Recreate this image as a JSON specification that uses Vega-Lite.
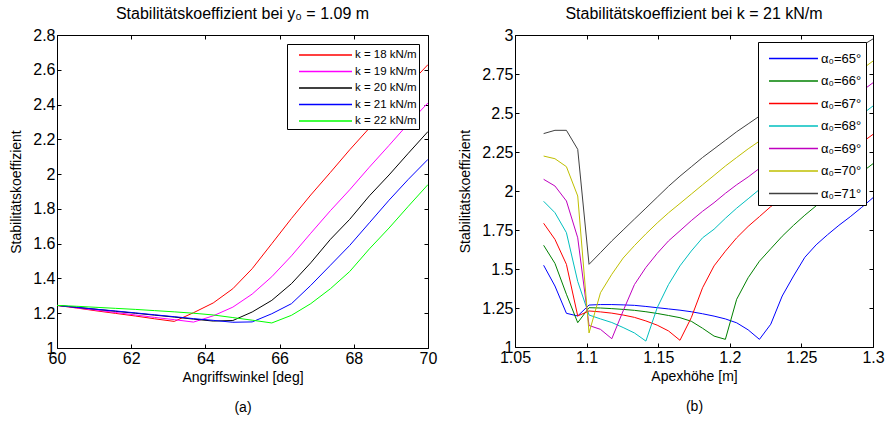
{
  "$schema": "https://vega.github.io/schema/vega-lite/v6.json",
  "background": "white",
  "padding": {"left": 9, "top": 5, "right": 5, "bottom": 5},
  "resolve": {"scale": {"color": "independent"}, "legend": {"color": "independent"}},
  "config": {
    "font": "Liberation Sans",
    "view": {"stroke": "black", "strokeWidth": 1},
    "axis": {
      "grid": false,
      "domain": false,
      "tickColor": "black",
      "tickSize": -4,
      "labelPadding": 6,
      "labelFontSize": 16,
      "labelColor": "black",
      "titleFontSize": 14,
      "titleFontWeight": "normal",
      "titleColor": "black",
      "labelFlush": false,
      "labelOverlap": false
    },
    "axisY": {"titlePadding": 9},
    "title": {"fontSize": 16, "fontWeight": "normal", "color": "black", "anchor": "middle"},
    "legend": {
      "strokeColor": "black",
      "fillColor": "white",
      "cornerRadius": 0,
      "title": null,
      "labelColor": "black"
    }
  },
  "datasets": {
    "a": [
      {"w":60,"s":1.245,"k":"k = 18 kN/m"},{"w":60.53,"s":1.230,"k":"k = 18 kN/m"},{"w":61.05,"s":1.214,"k":"k = 18 kN/m"},{"w":61.58,"s":1.199,"k":"k = 18 kN/m"},{"w":62.11,"s":1.184,"k":"k = 18 kN/m"},{"w":62.63,"s":1.168,"k":"k = 18 kN/m"},{"w":63.16,"s":1.153,"k":"k = 18 kN/m"},{"w":63.68,"s":1.203,"k":"k = 18 kN/m"},{"w":64.21,"s":1.259,"k":"k = 18 kN/m"},{"w":64.74,"s":1.341,"k":"k = 18 kN/m"},{"w":65.26,"s":1.456,"k":"k = 18 kN/m"},{"w":65.79,"s":1.60,"k":"k = 18 kN/m"},{"w":66.32,"s":1.745,"k":"k = 18 kN/m"},{"w":66.84,"s":1.88,"k":"k = 18 kN/m"},{"w":67.37,"s":2.01,"k":"k = 18 kN/m"},{"w":67.89,"s":2.14,"k":"k = 18 kN/m"},{"w":68.42,"s":2.265,"k":"k = 18 kN/m"},{"w":68.95,"s":2.39,"k":"k = 18 kN/m"},{"w":69.47,"s":2.51,"k":"k = 18 kN/m"},{"w":70,"s":2.63,"k":"k = 18 kN/m"},
      {"w":60,"s":1.245,"k":"k = 19 kN/m"},{"w":60.53,"s":1.231,"k":"k = 19 kN/m"},{"w":61.05,"s":1.218,"k":"k = 19 kN/m"},{"w":61.58,"s":1.204,"k":"k = 19 kN/m"},{"w":62.11,"s":1.190,"k":"k = 19 kN/m"},{"w":62.63,"s":1.176,"k":"k = 19 kN/m"},{"w":63.16,"s":1.163,"k":"k = 19 kN/m"},{"w":63.68,"s":1.149,"k":"k = 19 kN/m"},{"w":64.21,"s":1.185,"k":"k = 19 kN/m"},{"w":64.74,"s":1.235,"k":"k = 19 kN/m"},{"w":65.26,"s":1.31,"k":"k = 19 kN/m"},{"w":65.79,"s":1.41,"k":"k = 19 kN/m"},{"w":66.32,"s":1.53,"k":"k = 19 kN/m"},{"w":66.84,"s":1.66,"k":"k = 19 kN/m"},{"w":67.37,"s":1.79,"k":"k = 19 kN/m"},{"w":67.89,"s":1.91,"k":"k = 19 kN/m"},{"w":68.42,"s":2.04,"k":"k = 19 kN/m"},{"w":68.95,"s":2.165,"k":"k = 19 kN/m"},{"w":69.47,"s":2.29,"k":"k = 19 kN/m"},{"w":70,"s":2.41,"k":"k = 19 kN/m"},
      {"w":60,"s":1.245,"k":"k = 20 kN/m"},{"w":60.53,"s":1.234,"k":"k = 20 kN/m"},{"w":61.05,"s":1.223,"k":"k = 20 kN/m"},{"w":61.58,"s":1.211,"k":"k = 20 kN/m"},{"w":62.11,"s":1.200,"k":"k = 20 kN/m"},{"w":62.63,"s":1.189,"k":"k = 20 kN/m"},{"w":63.16,"s":1.178,"k":"k = 20 kN/m"},{"w":63.68,"s":1.166,"k":"k = 20 kN/m"},{"w":64.21,"s":1.155,"k":"k = 20 kN/m"},{"w":64.74,"s":1.158,"k":"k = 20 kN/m"},{"w":65.26,"s":1.207,"k":"k = 20 kN/m"},{"w":65.79,"s":1.274,"k":"k = 20 kN/m"},{"w":66.32,"s":1.37,"k":"k = 20 kN/m"},{"w":66.84,"s":1.49,"k":"k = 20 kN/m"},{"w":67.37,"s":1.625,"k":"k = 20 kN/m"},{"w":67.89,"s":1.74,"k":"k = 20 kN/m"},{"w":68.42,"s":1.875,"k":"k = 20 kN/m"},{"w":68.95,"s":1.995,"k":"k = 20 kN/m"},{"w":69.47,"s":2.12,"k":"k = 20 kN/m"},{"w":70,"s":2.245,"k":"k = 20 kN/m"},
      {"w":60,"s":1.245,"k":"k = 21 kN/m"},{"w":60.53,"s":1.234,"k":"k = 21 kN/m"},{"w":61.05,"s":1.223,"k":"k = 21 kN/m"},{"w":61.58,"s":1.213,"k":"k = 21 kN/m"},{"w":62.11,"s":1.202,"k":"k = 21 kN/m"},{"w":62.63,"s":1.191,"k":"k = 21 kN/m"},{"w":63.16,"s":1.180,"k":"k = 21 kN/m"},{"w":63.68,"s":1.169,"k":"k = 21 kN/m"},{"w":64.21,"s":1.159,"k":"k = 21 kN/m"},{"w":64.74,"s":1.148,"k":"k = 21 kN/m"},{"w":65.26,"s":1.15,"k":"k = 21 kN/m"},{"w":65.79,"s":1.197,"k":"k = 21 kN/m"},{"w":66.32,"s":1.255,"k":"k = 21 kN/m"},{"w":66.84,"s":1.36,"k":"k = 21 kN/m"},{"w":67.37,"s":1.476,"k":"k = 21 kN/m"},{"w":67.89,"s":1.59,"k":"k = 21 kN/m"},{"w":68.42,"s":1.72,"k":"k = 21 kN/m"},{"w":68.95,"s":1.85,"k":"k = 21 kN/m"},{"w":69.47,"s":1.97,"k":"k = 21 kN/m"},{"w":70,"s":2.085,"k":"k = 21 kN/m"},
      {"w":60,"s":1.245,"k":"k = 22 kN/m"},{"w":60.53,"s":1.240,"k":"k = 22 kN/m"},{"w":61.05,"s":1.234,"k":"k = 22 kN/m"},{"w":61.58,"s":1.228,"k":"k = 22 kN/m"},{"w":62.11,"s":1.222,"k":"k = 22 kN/m"},{"w":62.63,"s":1.215,"k":"k = 22 kN/m"},{"w":63.16,"s":1.208,"k":"k = 22 kN/m"},{"w":63.68,"s":1.200,"k":"k = 22 kN/m"},{"w":64.21,"s":1.19,"k":"k = 22 kN/m"},{"w":64.74,"s":1.175,"k":"k = 22 kN/m"},{"w":65.26,"s":1.16,"k":"k = 22 kN/m"},{"w":65.79,"s":1.144,"k":"k = 22 kN/m"},{"w":66.32,"s":1.188,"k":"k = 22 kN/m"},{"w":66.84,"s":1.255,"k":"k = 22 kN/m"},{"w":67.37,"s":1.341,"k":"k = 22 kN/m"},{"w":67.89,"s":1.44,"k":"k = 22 kN/m"},{"w":68.42,"s":1.57,"k":"k = 22 kN/m"},{"w":68.95,"s":1.69,"k":"k = 22 kN/m"},{"w":69.47,"s":1.815,"k":"k = 22 kN/m"},{"w":70,"s":1.94,"k":"k = 22 kN/m"}
    ],
    "b": [
      {"h":1.07,"s":1.524,"a":"α₀=65°"},{"h":1.0779,"s":1.391,"a":"α₀=65°"},{"h":1.0859,"s":1.216,"a":"α₀=65°"},{"h":1.0938,"s":1.199,"a":"α₀=65°"},{"h":1.1017,"s":1.269,"a":"α₀=65°"},{"h":1.1097,"s":1.272,"a":"α₀=65°"},{"h":1.1176,"s":1.272,"a":"α₀=65°"},{"h":1.1255,"s":1.27,"a":"α₀=65°"},{"h":1.1334,"s":1.267,"a":"α₀=65°"},{"h":1.1414,"s":1.26,"a":"α₀=65°"},{"h":1.1493,"s":1.252,"a":"α₀=65°"},{"h":1.1572,"s":1.244,"a":"α₀=65°"},{"h":1.1652,"s":1.236,"a":"α₀=65°"},{"h":1.1731,"s":1.226,"a":"α₀=65°"},{"h":1.181,"s":1.213,"a":"α₀=65°"},{"h":1.189,"s":1.198,"a":"α₀=65°"},{"h":1.1969,"s":1.18,"a":"α₀=65°"},{"h":1.2048,"s":1.155,"a":"α₀=65°"},{"h":1.2128,"s":1.11,"a":"α₀=65°"},{"h":1.2207,"s":1.049,"a":"α₀=65°"},{"h":1.2286,"s":1.146,"a":"α₀=65°"},{"h":1.2366,"s":1.327,"a":"α₀=65°"},{"h":1.2445,"s":1.455,"a":"α₀=65°"},{"h":1.2524,"s":1.575,"a":"α₀=65°"},{"h":1.2603,"s":1.655,"a":"α₀=65°"},{"h":1.2683,"s":1.72,"a":"α₀=65°"},{"h":1.2762,"s":1.78,"a":"α₀=65°"},{"h":1.2841,"s":1.835,"a":"α₀=65°"},{"h":1.2921,"s":1.895,"a":"α₀=65°"},{"h":1.3,"s":1.957,"a":"α₀=65°"},
      {"h":1.07,"s":1.652,"a":"α₀=66°"},{"h":1.0779,"s":1.536,"a":"α₀=66°"},{"h":1.0859,"s":1.338,"a":"α₀=66°"},{"h":1.0938,"s":1.156,"a":"α₀=66°"},{"h":1.1017,"s":1.252,"a":"α₀=66°"},{"h":1.1097,"s":1.25,"a":"α₀=66°"},{"h":1.1176,"s":1.246,"a":"α₀=66°"},{"h":1.1255,"s":1.241,"a":"α₀=66°"},{"h":1.1334,"s":1.235,"a":"α₀=66°"},{"h":1.1414,"s":1.226,"a":"α₀=66°"},{"h":1.1493,"s":1.215,"a":"α₀=66°"},{"h":1.1572,"s":1.202,"a":"α₀=66°"},{"h":1.1652,"s":1.188,"a":"α₀=66°"},{"h":1.1731,"s":1.165,"a":"α₀=66°"},{"h":1.181,"s":1.12,"a":"α₀=66°"},{"h":1.189,"s":1.07,"a":"α₀=66°"},{"h":1.1969,"s":1.049,"a":"α₀=66°"},{"h":1.2048,"s":1.306,"a":"α₀=66°"},{"h":1.2128,"s":1.444,"a":"α₀=66°"},{"h":1.2207,"s":1.55,"a":"α₀=66°"},{"h":1.2286,"s":1.63,"a":"α₀=66°"},{"h":1.2366,"s":1.71,"a":"α₀=66°"},{"h":1.2445,"s":1.78,"a":"α₀=66°"},{"h":1.2524,"s":1.845,"a":"α₀=66°"},{"h":1.2603,"s":1.905,"a":"α₀=66°"},{"h":1.2683,"s":1.96,"a":"α₀=66°"},{"h":1.2762,"s":2.015,"a":"α₀=66°"},{"h":1.2841,"s":2.07,"a":"α₀=66°"},{"h":1.2921,"s":2.12,"a":"α₀=66°"},{"h":1.3,"s":2.175,"a":"α₀=66°"},
      {"h":1.07,"s":1.793,"a":"α₀=67°"},{"h":1.0779,"s":1.69,"a":"α₀=67°"},{"h":1.0859,"s":1.53,"a":"α₀=67°"},{"h":1.0938,"s":1.199,"a":"α₀=67°"},{"h":1.1017,"s":1.231,"a":"α₀=67°"},{"h":1.1097,"s":1.225,"a":"α₀=67°"},{"h":1.1176,"s":1.217,"a":"α₀=67°"},{"h":1.1255,"s":1.205,"a":"α₀=67°"},{"h":1.1334,"s":1.19,"a":"α₀=67°"},{"h":1.1414,"s":1.167,"a":"α₀=67°"},{"h":1.1493,"s":1.14,"a":"α₀=67°"},{"h":1.1572,"s":1.103,"a":"α₀=67°"},{"h":1.1652,"s":1.043,"a":"α₀=67°"},{"h":1.1731,"s":1.188,"a":"α₀=67°"},{"h":1.181,"s":1.38,"a":"α₀=67°"},{"h":1.189,"s":1.52,"a":"α₀=67°"},{"h":1.1969,"s":1.614,"a":"α₀=67°"},{"h":1.2048,"s":1.70,"a":"α₀=67°"},{"h":1.2128,"s":1.773,"a":"α₀=67°"},{"h":1.2207,"s":1.836,"a":"α₀=67°"},{"h":1.2286,"s":1.90,"a":"α₀=67°"},{"h":1.2366,"s":1.95,"a":"α₀=67°"},{"h":1.2445,"s":2.0,"a":"α₀=67°"},{"h":1.2524,"s":2.05,"a":"α₀=67°"},{"h":1.2603,"s":2.10,"a":"α₀=67°"},{"h":1.2683,"s":2.155,"a":"α₀=67°"},{"h":1.2762,"s":2.21,"a":"α₀=67°"},{"h":1.2841,"s":2.26,"a":"α₀=67°"},{"h":1.2921,"s":2.31,"a":"α₀=67°"},{"h":1.3,"s":2.363,"a":"α₀=67°"},
      {"h":1.07,"s":1.934,"a":"α₀=68°"},{"h":1.0779,"s":1.861,"a":"α₀=68°"},{"h":1.0859,"s":1.733,"a":"α₀=68°"},{"h":1.0938,"s":1.42,"a":"α₀=68°"},{"h":1.1017,"s":1.205,"a":"α₀=68°"},{"h":1.1097,"s":1.18,"a":"α₀=68°"},{"h":1.1176,"s":1.157,"a":"α₀=68°"},{"h":1.1255,"s":1.125,"a":"α₀=68°"},{"h":1.1334,"s":1.09,"a":"α₀=68°"},{"h":1.1414,"s":1.038,"a":"α₀=68°"},{"h":1.1493,"s":1.252,"a":"α₀=68°"},{"h":1.1572,"s":1.40,"a":"α₀=68°"},{"h":1.1652,"s":1.52,"a":"α₀=68°"},{"h":1.1731,"s":1.615,"a":"α₀=68°"},{"h":1.181,"s":1.70,"a":"α₀=68°"},{"h":1.189,"s":1.755,"a":"α₀=68°"},{"h":1.1969,"s":1.825,"a":"α₀=68°"},{"h":1.2048,"s":1.89,"a":"α₀=68°"},{"h":1.2128,"s":1.95,"a":"α₀=68°"},{"h":1.2207,"s":2.01,"a":"α₀=68°"},{"h":1.2286,"s":2.065,"a":"α₀=68°"},{"h":1.2366,"s":2.12,"a":"α₀=68°"},{"h":1.2445,"s":2.175,"a":"α₀=68°"},{"h":1.2524,"s":2.23,"a":"α₀=68°"},{"h":1.2603,"s":2.28,"a":"α₀=68°"},{"h":1.2683,"s":2.33,"a":"α₀=68°"},{"h":1.2762,"s":2.385,"a":"α₀=68°"},{"h":1.2841,"s":2.44,"a":"α₀=68°"},{"h":1.2921,"s":2.49,"a":"α₀=68°"},{"h":1.3,"s":2.545,"a":"α₀=68°"},
      {"h":1.07,"s":2.075,"a":"α₀=69°"},{"h":1.0779,"s":2.032,"a":"α₀=69°"},{"h":1.0859,"s":1.936,"a":"α₀=69°"},{"h":1.0938,"s":1.70,"a":"α₀=69°"},{"h":1.1017,"s":1.138,"a":"α₀=69°"},{"h":1.1097,"s":1.113,"a":"α₀=69°"},{"h":1.1176,"s":1.053,"a":"α₀=69°"},{"h":1.1255,"s":1.231,"a":"α₀=69°"},{"h":1.1334,"s":1.40,"a":"α₀=69°"},{"h":1.1414,"s":1.51,"a":"α₀=69°"},{"h":1.1493,"s":1.60,"a":"α₀=69°"},{"h":1.1572,"s":1.68,"a":"α₀=69°"},{"h":1.1652,"s":1.745,"a":"α₀=69°"},{"h":1.1731,"s":1.81,"a":"α₀=69°"},{"h":1.181,"s":1.87,"a":"α₀=69°"},{"h":1.189,"s":1.925,"a":"α₀=69°"},{"h":1.1969,"s":1.985,"a":"α₀=69°"},{"h":1.2048,"s":2.04,"a":"α₀=69°"},{"h":1.2128,"s":2.09,"a":"α₀=69°"},{"h":1.2207,"s":2.145,"a":"α₀=69°"},{"h":1.2286,"s":2.2,"a":"α₀=69°"},{"h":1.2366,"s":2.255,"a":"α₀=69°"},{"h":1.2445,"s":2.31,"a":"α₀=69°"},{"h":1.2524,"s":2.365,"a":"α₀=69°"},{"h":1.2603,"s":2.42,"a":"α₀=69°"},{"h":1.2683,"s":2.475,"a":"α₀=69°"},{"h":1.2762,"s":2.53,"a":"α₀=69°"},{"h":1.2841,"s":2.585,"a":"α₀=69°"},{"h":1.2921,"s":2.64,"a":"α₀=69°"},{"h":1.3,"s":2.694,"a":"α₀=69°"},
      {"h":1.07,"s":2.224,"a":"α₀=70°"},{"h":1.0779,"s":2.207,"a":"α₀=70°"},{"h":1.0859,"s":2.156,"a":"α₀=70°"},{"h":1.0938,"s":1.968,"a":"α₀=70°"},{"h":1.1017,"s":1.09,"a":"α₀=70°"},{"h":1.1097,"s":1.348,"a":"α₀=70°"},{"h":1.1176,"s":1.466,"a":"α₀=70°"},{"h":1.1255,"s":1.57,"a":"α₀=70°"},{"h":1.1334,"s":1.65,"a":"α₀=70°"},{"h":1.1414,"s":1.725,"a":"α₀=70°"},{"h":1.1493,"s":1.795,"a":"α₀=70°"},{"h":1.1572,"s":1.86,"a":"α₀=70°"},{"h":1.1652,"s":1.92,"a":"α₀=70°"},{"h":1.1731,"s":1.98,"a":"α₀=70°"},{"h":1.181,"s":2.04,"a":"α₀=70°"},{"h":1.189,"s":2.10,"a":"α₀=70°"},{"h":1.1969,"s":2.16,"a":"α₀=70°"},{"h":1.2048,"s":2.215,"a":"α₀=70°"},{"h":1.2128,"s":2.27,"a":"α₀=70°"},{"h":1.2207,"s":2.32,"a":"α₀=70°"},{"h":1.2286,"s":2.37,"a":"α₀=70°"},{"h":1.2366,"s":2.42,"a":"α₀=70°"},{"h":1.2445,"s":2.475,"a":"α₀=70°"},{"h":1.2524,"s":2.525,"a":"α₀=70°"},{"h":1.2603,"s":2.58,"a":"α₀=70°"},{"h":1.2683,"s":2.63,"a":"α₀=70°"},{"h":1.2762,"s":2.68,"a":"α₀=70°"},{"h":1.2841,"s":2.73,"a":"α₀=70°"},{"h":1.2921,"s":2.78,"a":"α₀=70°"},{"h":1.3,"s":2.833,"a":"α₀=70°"},
      {"h":1.07,"s":2.368,"a":"α₀=71°"},{"h":1.0779,"s":2.389,"a":"α₀=71°"},{"h":1.0859,"s":2.389,"a":"α₀=71°"},{"h":1.0938,"s":2.267,"a":"α₀=71°"},{"h":1.1017,"s":1.53,"a":"α₀=71°"},{"h":1.1097,"s":1.605,"a":"α₀=71°"},{"h":1.1176,"s":1.68,"a":"α₀=71°"},{"h":1.1255,"s":1.75,"a":"α₀=71°"},{"h":1.1334,"s":1.82,"a":"α₀=71°"},{"h":1.1414,"s":1.89,"a":"α₀=71°"},{"h":1.1493,"s":1.96,"a":"α₀=71°"},{"h":1.1572,"s":2.03,"a":"α₀=71°"},{"h":1.1652,"s":2.095,"a":"α₀=71°"},{"h":1.1731,"s":2.155,"a":"α₀=71°"},{"h":1.181,"s":2.215,"a":"α₀=71°"},{"h":1.189,"s":2.27,"a":"α₀=71°"},{"h":1.1969,"s":2.325,"a":"α₀=71°"},{"h":1.2048,"s":2.38,"a":"α₀=71°"},{"h":1.2128,"s":2.43,"a":"α₀=71°"},{"h":1.2207,"s":2.48,"a":"α₀=71°"},{"h":1.2286,"s":2.53,"a":"α₀=71°"},{"h":1.2366,"s":2.58,"a":"α₀=71°"},{"h":1.2445,"s":2.63,"a":"α₀=71°"},{"h":1.2524,"s":2.68,"a":"α₀=71°"},{"h":1.2603,"s":2.73,"a":"α₀=71°"},{"h":1.2683,"s":2.78,"a":"α₀=71°"},{"h":1.2762,"s":2.83,"a":"α₀=71°"},{"h":1.2841,"s":2.88,"a":"α₀=71°"},{"h":1.2921,"s":2.93,"a":"α₀=71°"},{"h":1.3,"s":2.975,"a":"α₀=71°"}
    ]
  },
  "spacing": 20,
  "hconcat": [
    {
      "width": 371,
      "height": 313,
      "title": {"text": "Stabilitätskoeffizient bei y₀ = 1.09 m", "offset": 5},
      "data": {"name": "a"},
      "layer": [
        {
          "mark": {"type": "line", "strokeWidth": 1, "clip": true},
          "encoding": {
            "x": {"field": "w", "type": "quantitative", "scale": {"domain": [60, 70], "nice": false}, "axis": {"title": ["Angriffswinkel [deg]", "(a)"], "titleLineHeight": 30, "values": [60, 62, 64, 66, 68, 70], "labelExpr": "'' + datum.value"}},
            "y": {"field": "s", "type": "quantitative", "scale": {"domain": [1, 2.8], "nice": false, "zero": false}, "axis": {"title": "Stabilitätskoeffizient", "values": [1, 1.2, 1.4, 1.6, 1.8, 2, 2.2, 2.4, 2.6, 2.8], "labelExpr": "'' + datum.value"}},
            "color": {
              "field": "k", "type": "nominal",
              "scale": {"domain": ["k = 18 kN/m", "k = 19 kN/m", "k = 20 kN/m", "k = 21 kN/m", "k = 22 kN/m"], "range": ["#ff0000", "#ff00ff", "#000000", "#0000ff", "#00ff00"]},
              "legend": {"orient": "top-right", "offset": 9, "padding": 2, "rowPadding": 1.5, "symbolType": "M0.125,0H6.75", "symbolSize": 256, "symbolStrokeWidth": 1.3, "labelOffset": 48, "labelFontSize": 11.5}
            }
          }
        },
        {
          "mark": {"type": "point", "opacity": 0},
          "encoding": {
            "x": {"field": "w", "type": "quantitative", "axis": {"orient": "top", "labels": false, "title": null, "values": [60, 62, 64, 66, 68, 70]}},
            "y": {"field": "s", "type": "quantitative", "axis": {"orient": "right", "labels": false, "title": null, "values": [1, 1.2, 1.4, 1.6, 1.8, 2, 2.2, 2.4, 2.6, 2.8]}}
          }
        }
      ],
      "resolve": {"axis": {"x": "independent", "y": "independent"}}
    },
    {
      "width": 358,
      "height": 312,
      "title": {"text": "Stabilitätskoeffizient bei k = 21 kN/m", "offset": 5},
      "data": {"name": "b"},
      "layer": [
        {
          "mark": {"type": "line", "strokeWidth": 1, "clip": true},
          "encoding": {
            "x": {"field": "h", "type": "quantitative", "scale": {"domain": [1.05, 1.3], "nice": false, "zero": false}, "axis": {"title": ["Apexhöhe [m]", "(b)"], "titleLineHeight": 30, "values": [1.05, 1.1, 1.15, 1.2, 1.25, 1.3], "labelExpr": "'' + datum.value"}},
            "y": {"field": "s", "type": "quantitative", "scale": {"domain": [1, 3], "nice": false, "zero": false}, "axis": {"title": "Stabilitätskoeffizient", "values": [1, 1.25, 1.5, 1.75, 2, 2.25, 2.5, 2.75, 3], "labelExpr": "'' + datum.value"}},
            "color": {
              "field": "a", "type": "nominal",
              "scale": {"domain": ["α₀=65°", "α₀=66°", "α₀=67°", "α₀=68°", "α₀=69°", "α₀=70°", "α₀=71°"], "range": ["#0000ff", "#008000", "#ff0000", "#00bfbf", "#bf00bf", "#bfbf00", "#404040"]},
              "legend": {"orient": "top-right", "offset": 7, "padding": 4, "rowPadding": 2.5, "symbolType": "M-0.478,0H3.78", "symbolSize": 529, "symbolStrokeWidth": 1.5, "labelOffset": 34, "labelFontSize": 13}
            }
          }
        },
        {
          "mark": {"type": "point", "opacity": 0},
          "encoding": {
            "x": {"field": "h", "type": "quantitative", "axis": {"orient": "top", "labels": false, "title": null, "values": [1.05, 1.1, 1.15, 1.2, 1.25, 1.3]}},
            "y": {"field": "s", "type": "quantitative", "axis": {"orient": "right", "labels": false, "title": null, "values": [1, 1.25, 1.5, 1.75, 2, 2.25, 2.5, 2.75, 3]}}
          }
        }
      ],
      "resolve": {"axis": {"x": "independent", "y": "independent"}}
    }
  ]
}
